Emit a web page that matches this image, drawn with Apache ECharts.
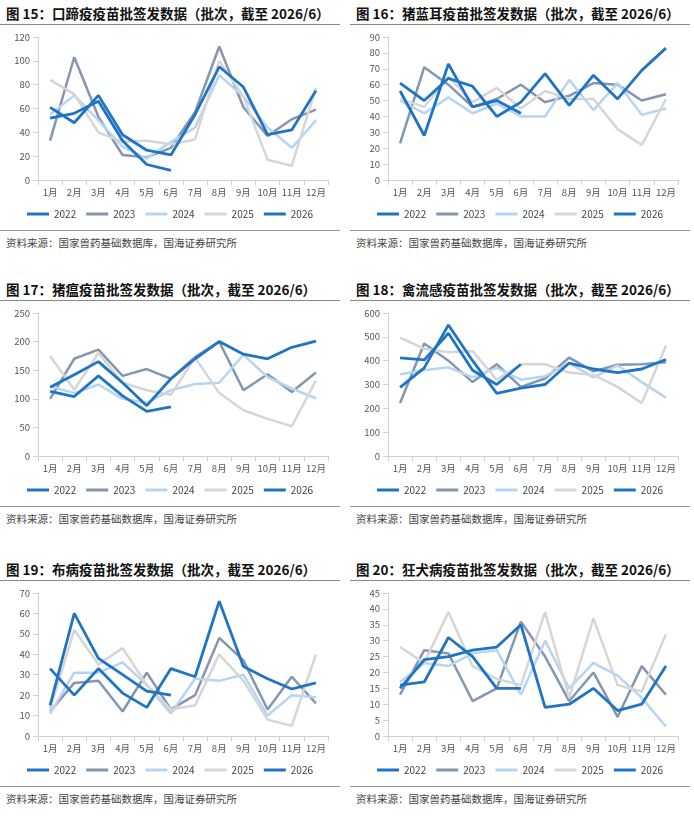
<!DOCTYPE html>
<html><head><meta charset="utf-8">
<script src="https://cdn.jsdelivr.net/npm/echarts@6/dist/echarts.min.js"></script>
<style>
body{margin:0;background:#fff;font-family:"Noto Sans CJK SC",sans-serif;}
.p{position:absolute;width:340px;}
.t{font-size:13.5px;font-weight:bold;color:#111;height:22px;line-height:22px;border-bottom:1.5px solid #888;padding-left:6px;white-space:nowrap;}
.c{height:205px;}
.s{font-size:10.5px;color:#444;border-top:1.5px solid #999;padding:4px 0 0 6px;white-space:nowrap;}
</style></head><body>
<div id="root"></div>
<script>
var months = ['1月','2月','3月','4月','5月','6月','7月','8月','9月','10月','11月','12月'];
var years = ['2022','2023','2024','2025','2026'];
var colors = ['#1f74c4','#8496b0','#b6d5f2','#d6d6d6','#1f74c4'];

// 图15 口蹄疫
var fmd2022 = [61,48,71,38,25,21,55,95,78,38,42,75];
var fmd2023 = [33,103,53,21,19,27,57,112,61,37,51,59];
var fmd2024 = [55,71,50,28,18,32,44,88,70,44,27,50];
var fmd2025 = [84,72,40,32,33,30,34,100,70,17,12,77];
var fmd2026 = [52,56,66,33,13,8];
// 图16 猪蓝耳
var prrs2022 = [61,50,64,59,40,49,67,47,66,51,69,83];
var prrs2023 = [23,71,60,46,51,60,49,53,61,60,50,54];
var prrs2024 = [50,42,52,42,48,40,40,63,44,61,41,45];
var prrs2025 = [51,46,65,49,58,45,56,51,51,32,22,51];
var prrs2026 = [56,28,73,46,50,42];
// 图17 猪瘟
var csf2022 = [120,142,165,128,88,135,170,200,178,170,190,201];
var csf2023 = [100,170,186,140,152,135,173,200,115,143,112,146];
var csf2024 = [122,110,125,100,93,115,126,128,177,138,118,101];
var csf2025 = [175,116,180,128,115,107,172,110,80,65,52,132];
var csf2026 = [113,104,140,105,78,86];
// 图18 禽流感
var ai2022 = [288,370,550,400,263,285,300,390,365,350,365,405];
var ai2023 = [222,472,400,310,385,290,325,413,355,383,385,393];
var ai2024 = [343,360,372,330,370,320,335,390,330,380,310,245];
var ai2025 = [497,450,435,440,320,385,385,350,340,290,222,463];
var ai2026 = [412,403,515,360,300,385];
// 图19 布病
var bru2022 = [33,20,33,21,14,33,29,66,34,28,23,26];
var bru2023 = [12,26,27,12,31,13,20,48,37,13,29,16];
var bru2024 = [11,31,31,36,25,11,28,27,30,10,20,19];
var bru2025 = [13,52,35,43,25,13,15,40,27,8,5,40];
var bru2026 = [15,60,38,30,22,20];
// 图20 狂犬病
var rab2022 = [15,24,25,27,28,35,9,10,15,8,10,22];
var rab2023 = [13,27,26,11,15,36,25,11,20,6,22,13];
var rab2024 = [17,23,22,26,27,13,30,15,23,19,12,3];
var rab2025 = [28,23,39,22,18,16,39,12,37,16,14,32];
var rab2026 = [16,17,31,25,15,15];

var panels = [
  {x:0,y:2,title:'图 15：口蹄疫疫苗批签发数据（批次，截至 2026/6）',max:120,iv:20,data:[fmd2022,fmd2023,fmd2024,fmd2025,fmd2026]},
  {x:350,y:2,title:'图 16：猪蓝耳疫苗批签发数据（批次，截至 2026/6）',max:90,iv:10,data:[prrs2022,prrs2023,prrs2024,prrs2025,prrs2026]},
  {x:0,y:278,title:'图 17：猪瘟疫苗批签发数据（批次，截至 2026/6）',max:250,iv:50,data:[csf2022,csf2023,csf2024,csf2025,csf2026]},
  {x:350,y:278,title:'图 18：禽流感疫苗批签发数据（批次，截至 2026/6）',max:600,iv:100,data:[ai2022,ai2023,ai2024,ai2025,ai2026]},
  {x:0,y:558,title:'图 19：布病疫苗批签发数据（批次，截至 2026/6）',max:70,iv:10,data:[bru2022,bru2023,bru2024,bru2025,bru2026]},
  {x:350,y:558,title:'图 20：狂犬病疫苗批签发数据（批次，截至 2026/6）',max:45,iv:5,data:[rab2022,rab2023,rab2024,rab2025,rab2026]}
];

var root = document.getElementById('root');
panels.forEach(function(p,i){
  var d = document.createElement('div');
  d.className = 'p';
  d.style.left = p.x+'px'; d.style.top = p.y+'px';
  d.innerHTML = '<div class="t">'+p.title+'</div><div class="c" id="c'+i+'"></div><div class="s">资料来源：国家兽药基础数据库，国海证券研究所</div>';
  root.appendChild(d);
  var chart = echarts.init(document.getElementById('c'+i));
  chart.setOption({
    animation:false,
    color:colors,
    textStyle:{fontFamily:'Noto Sans CJK SC'},
    grid:{left:38,right:12,top:12,bottom:50},
    legend:{bottom:6,left:'center',width:330,itemWidth:22,itemHeight:3,itemGap:10,icon:'rect',
      textStyle:{fontSize:10,color:'#444'},data:years},
    xAxis:{type:'category',data:months,boundaryGap:true,
      axisLine:{lineStyle:{color:'#d0d0d0'}},axisTick:{show:true,lineStyle:{color:'#d0d0d0'}},
      axisLabel:{interval:0,fontSize:9.5,color:'#555'}},
    yAxis:{type:'value',min:0,max:p.max,interval:p.iv,
      axisLine:{show:true,lineStyle:{color:'#d0d0d0'}},axisTick:{show:true,lineStyle:{color:'#d0d0d0'}},
      splitLine:{show:false},axisLabel:{fontSize:9.5,color:'#555'}},
    series:years.map(function(y,k){
      return {name:y,type:'line',data:p.data[k],symbol:'none',z:(k==0||k==4)?5:2,
        lineStyle:{width:(k==0||k==4)?2.8:2.5,color:colors[k]}};
    })
  });
});
</script>
</body></html>
